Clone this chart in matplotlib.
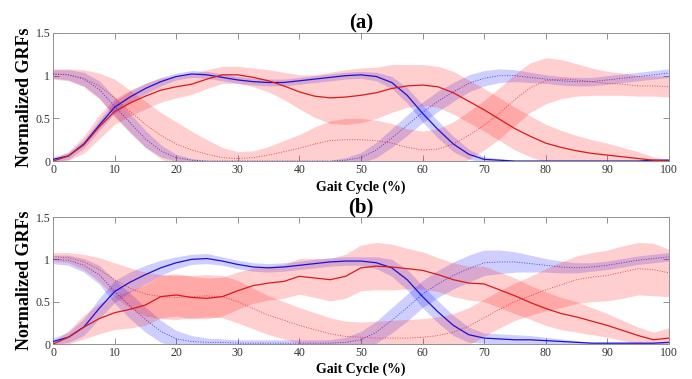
import numpy as np
import matplotlib
matplotlib.use('Agg')
from matplotlib import pyplot as plt

plt.rcParams['font.family'] = ['Liberation Serif', 'DejaVu Serif']

# gait cycle sample points (%)
cycle = np.arange(0, 100.1, 2.5)

# ---- panel (a) ----
a_blue_solid = [0.02, 0.06, 0.20, 0.42, 0.63, 0.75, 0.85, 0.93, 0.99, 1.02, 1.01,
                0.98, 0.95, 0.93, 0.92, 0.92, 0.94, 0.96, 0.98, 1.00, 1.01, 0.99,
                0.92, 0.77, 0.56, 0.37, 0.20, 0.08, 0.02, 0.01, 0.00, 0.00, 0.00,
                0.00, 0.00, 0.00, 0.00, 0.00, 0.00, 0.01, 0.01]
a_blue_solid_sd = [0.03, 0.04, 0.05, 0.06, 0.07, 0.07, 0.06, 0.05, 0.04, 0.04, 0.04,
                   0.04, 0.04, 0.04, 0.04, 0.04, 0.04, 0.04, 0.04, 0.04, 0.04, 0.05,
                   0.07, 0.09, 0.10, 0.10, 0.09, 0.06, 0.03, 0.02, 0.01, 0.01, 0.01,
                   0.01, 0.01, 0.01, 0.01, 0.01, 0.01, 0.01, 0.02]
a_blue_dot = [1.02, 1.01, 0.96, 0.84, 0.64, 0.45, 0.26, 0.12, 0.04, 0.01, 0.00,
              0.00, 0.00, 0.00, 0.00, 0.00, 0.00, 0.00, 0.00, 0.01, 0.04, 0.13,
              0.27, 0.42, 0.57, 0.70, 0.81, 0.91, 0.97, 1.00, 1.00, 0.98, 0.96,
              0.94, 0.93, 0.93, 0.95, 0.97, 0.99, 1.01, 1.03]
a_blue_dot_sd = [0.05, 0.06, 0.08, 0.10, 0.11, 0.11, 0.10, 0.07, 0.04, 0.02, 0.01,
                 0.01, 0.01, 0.01, 0.01, 0.01, 0.01, 0.01, 0.01, 0.03, 0.06, 0.09,
                 0.11, 0.12, 0.12, 0.12, 0.11, 0.10, 0.09, 0.08, 0.07, 0.06, 0.05,
                 0.05, 0.05, 0.05, 0.05, 0.05, 0.05, 0.05, 0.05]
a_red_solid = [0.00, 0.06, 0.19, 0.40, 0.58, 0.68, 0.76, 0.83, 0.87, 0.90, 0.96,
               1.01, 1.01, 0.98, 0.94, 0.88, 0.81, 0.76, 0.74, 0.75, 0.77, 0.80,
               0.85, 0.88, 0.89, 0.87, 0.80, 0.70, 0.60, 0.49, 0.38, 0.29, 0.21,
               0.16, 0.12, 0.09, 0.07, 0.05, 0.03, 0.01, 0.00]
a_red_solid_sd = [0.02, 0.05, 0.10, 0.14, 0.15, 0.15, 0.15, 0.14, 0.13, 0.12, 0.11,
                  0.10, 0.10, 0.11, 0.13, 0.16, 0.20, 0.25, 0.30, 0.32, 0.32, 0.30,
                  0.28, 0.25, 0.24, 0.24, 0.25, 0.25, 0.25, 0.25, 0.25, 0.24, 0.22,
                  0.20, 0.18, 0.16, 0.14, 0.11, 0.08, 0.04, 0.02]
a_red_dot = [1.02, 1.01, 0.97, 0.88, 0.74, 0.58, 0.43, 0.30, 0.20, 0.13, 0.08,
             0.04, 0.03, 0.04, 0.07, 0.11, 0.15, 0.20, 0.24, 0.25, 0.25, 0.24,
             0.21, 0.16, 0.13, 0.14, 0.20, 0.30, 0.42, 0.56, 0.72, 0.86, 0.94,
             0.96, 0.95, 0.93, 0.91, 0.90, 0.88, 0.88, 0.87]
a_red_dot_sd = [0.06, 0.07, 0.10, 0.15, 0.22, 0.25, 0.27, 0.27, 0.26, 0.22, 0.17,
                0.12, 0.08, 0.08, 0.10, 0.13, 0.16, 0.20, 0.23, 0.25, 0.25, 0.24,
                0.23, 0.22, 0.22, 0.24, 0.26, 0.28, 0.29, 0.30, 0.30, 0.29, 0.27,
                0.23, 0.19, 0.16, 0.14, 0.13, 0.12, 0.12, 0.12]

# ---- panel (b) ----
b_blue_solid = [0.03, 0.08, 0.20, 0.42, 0.62, 0.73, 0.82, 0.90, 0.96, 1.00, 1.01,
                0.98, 0.94, 0.91, 0.90, 0.91, 0.93, 0.95, 0.97, 0.98, 0.98, 0.96,
                0.90, 0.76, 0.56, 0.38, 0.22, 0.11, 0.07, 0.06, 0.05, 0.05, 0.04,
                0.03, 0.02, 0.01, 0.01, 0.01, 0.01, 0.01, 0.02]
b_blue_solid_sd = [0.04, 0.06, 0.10, 0.12, 0.13, 0.12, 0.11, 0.09, 0.07, 0.06, 0.06,
                   0.05, 0.05, 0.05, 0.05, 0.05, 0.05, 0.05, 0.05, 0.05, 0.05, 0.07,
                   0.10, 0.12, 0.13, 0.13, 0.12, 0.09, 0.06, 0.06, 0.06, 0.05, 0.04,
                   0.03, 0.02, 0.01, 0.01, 0.01, 0.01, 0.01, 0.01]
b_blue_dot = [1.00, 0.99, 0.93, 0.82, 0.62, 0.45, 0.29, 0.15, 0.06, 0.03, 0.02,
              0.02, 0.01, 0.01, 0.01, 0.01, 0.01, 0.01, 0.01, 0.02, 0.05, 0.14,
              0.28, 0.43, 0.59, 0.71, 0.81, 0.89, 0.96, 0.97, 0.97, 0.95, 0.93,
              0.91, 0.90, 0.91, 0.93, 0.96, 0.99, 1.01, 1.03]
b_blue_dot_sd = [0.05, 0.06, 0.08, 0.11, 0.14, 0.15, 0.15, 0.13, 0.10, 0.07, 0.05,
                 0.04, 0.04, 0.04, 0.04, 0.04, 0.04, 0.04, 0.04, 0.06, 0.10, 0.13,
                 0.15, 0.16, 0.16, 0.16, 0.16, 0.16, 0.15, 0.14, 0.12, 0.10, 0.08,
                 0.07, 0.06, 0.05, 0.05, 0.05, 0.05, 0.05, 0.05]
b_red_solid = [0.00, 0.08, 0.20, 0.30, 0.37, 0.41, 0.46, 0.56, 0.58, 0.55, 0.54,
               0.56, 0.63, 0.69, 0.72, 0.74, 0.80, 0.78, 0.76, 0.80, 0.90, 0.92,
               0.91, 0.89, 0.87, 0.82, 0.76, 0.72, 0.71, 0.64, 0.57, 0.49, 0.42,
               0.36, 0.32, 0.27, 0.22, 0.16, 0.10, 0.05, 0.07]
b_red_solid_sd = [0.02, 0.08, 0.14, 0.18, 0.20, 0.22, 0.24, 0.25, 0.25, 0.25, 0.24,
                  0.23, 0.22, 0.21, 0.20, 0.20, 0.21, 0.23, 0.25, 0.26, 0.27, 0.28,
                  0.27, 0.24, 0.22, 0.20, 0.20, 0.20, 0.21, 0.21, 0.21, 0.20, 0.20,
                  0.19, 0.18, 0.16, 0.14, 0.12, 0.10, 0.09, 0.12]
b_red_dot = [1.03, 1.02, 0.97, 0.88, 0.76, 0.66, 0.59, 0.56, 0.55, 0.56, 0.57,
             0.56, 0.50, 0.42, 0.34, 0.28, 0.22, 0.17, 0.12, 0.09, 0.08, 0.07,
             0.07, 0.07, 0.08, 0.10, 0.14, 0.21, 0.31, 0.41, 0.50, 0.57, 0.64,
             0.70, 0.76, 0.79, 0.81, 0.85, 0.89, 0.88, 0.84]
b_red_dot_sd = [0.05, 0.06, 0.09, 0.14, 0.20, 0.24, 0.26, 0.26, 0.26, 0.25, 0.25,
                0.25, 0.25, 0.24, 0.23, 0.22, 0.21, 0.20, 0.19, 0.18, 0.18, 0.20,
                0.21, 0.22, 0.22, 0.22, 0.22, 0.22, 0.22, 0.22, 0.22, 0.23, 0.25,
                0.27, 0.28, 0.29, 0.30, 0.31, 0.31, 0.31, 0.28]

panels = [
    ('(a)', [(a_blue_solid, a_blue_solid_sd, 'b', '-'),
             (a_blue_dot, a_blue_dot_sd, 'b', ':'),
             (a_red_solid, a_red_solid_sd, 'r', '-'),
             (a_red_dot, a_red_dot_sd, 'r', ':')]),
    ('(b)', [(b_blue_solid, b_blue_solid_sd, 'b', '-'),
             (b_blue_dot, b_blue_dot_sd, 'b', ':'),
             (b_red_solid, b_red_solid_sd, 'r', '-'),
             (b_red_dot, b_red_dot_sd, 'r', ':')]),
]

colors = {'b': '#1a10d8', 'r': '#dc1818'}
band_colors = {'b': (0.0, 0.0, 1.0), 'r': (1.0, 0.0, 0.0)}

fig = plt.figure(figsize=(6.92, 3.79), dpi=100)
positions = [[0.0766, 0.575, 0.890, 0.338], [0.0766, 0.0923, 0.890, 0.335]]

for pos, (title, series) in zip(positions, panels):
    ax = fig.add_axes(pos)
    for mean, sd, c, ls in series:
        mean = np.array(mean)
        sd = np.array(sd)
        ax.fill_between(cycle, mean - sd, mean + sd, color=band_colors[c],
                        alpha=0.19, linewidth=0, zorder=2)
    for mean, sd, c, ls in series:
        if ls == '-':
            ax.plot(cycle, mean, color=colors[c], linewidth=0.9, zorder=3)
        else:
            ax.plot(cycle, mean, color=colors[c], linewidth=0.6, alpha=0.8,
                    dashes=(1.2, 1.8), zorder=3)

    ax.set_xlim(0, 100)
    ax.set_ylim(0, 1.5)
    ax.set_xticks(np.arange(0, 101, 10))
    ax.set_yticks([0, 0.5, 1, 1.5])
    ax.set_yticklabels(['0', '0.5', '1', '1.5'])
    ax.tick_params(direction='in', top=True, right=True, length=4, width=0.6,
                   labelsize=8.5, colors='#808080', labelcolor='#333333', pad=2)
    for sp in ax.spines.values():
        sp.set_color('#909090')
        sp.set_linewidth(0.7)
    ax.set_title(title, fontsize=15, fontweight='bold', pad=3)
    ax.set_xlabel('Gait Cycle (%)', fontsize=10, fontweight='bold', labelpad=3)
    ax.set_ylabel('Normalized GRFs', fontsize=13, fontweight='bold', labelpad=2)

fig.savefig('out.png', dpi=100)
